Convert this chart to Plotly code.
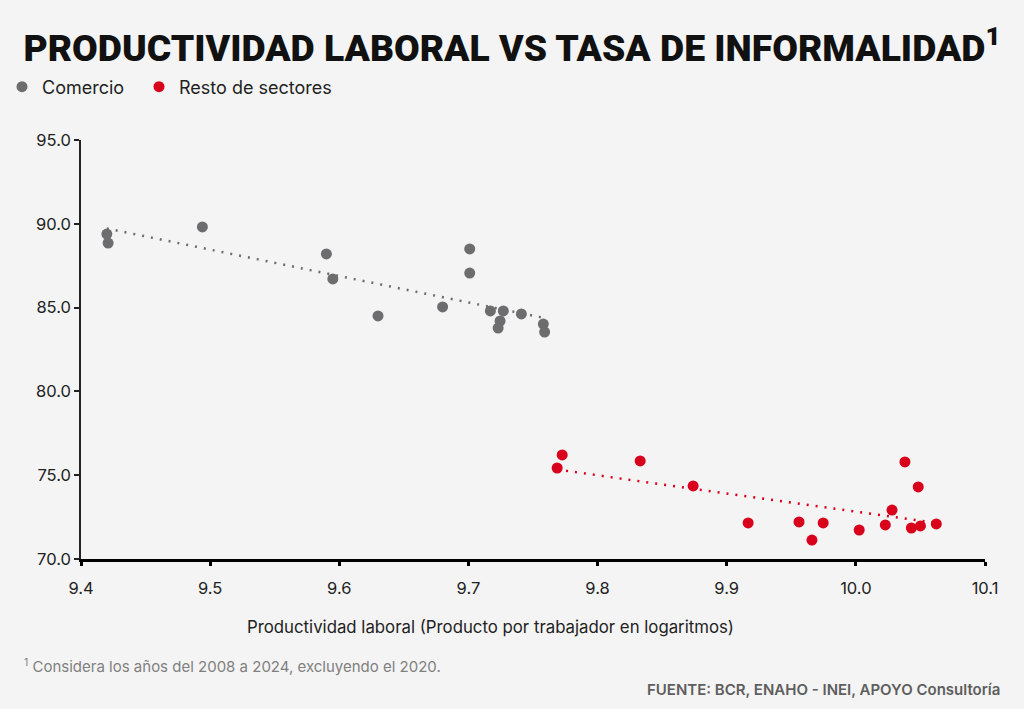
import numpy as np
import plotly.graph_objects as go

# Comercio (gray)
comercio_x = [9.420, 9.421, 9.494, 9.590, 9.595, 9.630, 9.680, 9.701, 9.701,
              9.717, 9.727, 9.7245, 9.723, 9.741, 9.758, 9.759]
comercio_y = [89.39, 88.85, 89.81, 88.20, 86.71, 84.50, 85.04, 88.50, 87.06,
              84.80, 84.80, 84.20, 83.78, 84.62, 84.02, 83.54]

# Resto de sectores (red)
resto_x = [9.7726, 9.7687, 9.833, 9.874, 9.9166, 9.956, 9.966, 9.9747,
           10.0026, 10.0228, 10.028, 10.038, 10.0483, 10.043, 10.050, 10.0623]
resto_y = [76.21, 75.43, 75.85, 74.36, 72.15, 72.21, 71.13, 72.15,
           71.73, 72.03, 72.92, 75.79, 74.30, 71.85, 71.97, 72.09]

x_ticks = [9.4, 9.5, 9.6, 9.7, 9.8, 9.9, 10.0, 10.1]
x_tick_labels = ["9.4", "9.5", "9.6", "9.7", "9.8", "9.9", "10.0", "10.1"]
y_ticks = [70, 75, 80, 85, 90, 95]
y_tick_labels = ["70.0", "75.0", "80.0", "85.0", "90.0", "95.0"]

GRAY = "#6d6d6f"
RED = "#d9001b"
FONT = "Inter"

fig = go.Figure()


def trend(xs, ys):
    m, b = np.polyfit(xs, ys, 1)
    xx = np.array([min(xs), max(xs)])
    return xx, m * xx + b


for xs, ys, col in [(comercio_x, comercio_y, GRAY), (resto_x, resto_y, RED)]:
    tx, ty = trend(xs, ys)
    fig.add_trace(go.Scatter(x=tx, y=ty, mode="lines", showlegend=False,
                             line=dict(color=col, width=2.5, dash="2px,7px"),
                             hoverinfo="skip"))

for xs, ys, col, name, lg in [(comercio_x, comercio_y, GRAY, "Comercio", "legend"),
                              (resto_x, resto_y, RED, "Resto de sectores", "legend2")]:
    fig.add_trace(go.Scatter(x=xs, y=ys, mode="markers", name=name, legend=lg,
                             marker=dict(color=col, size=11)))

legend_common = dict(orientation="h", xref="container", yref="container",
                     y=1 - 87 / 709, xanchor="left", yanchor="middle",
                     font=dict(size=18, color="#222222"),
                     bgcolor="rgba(0,0,0,0)", borderwidth=0)

fig.update_layout(
    width=1024, height=709,
    paper_bgcolor="#f4f4f4", plot_bgcolor="#f4f4f4",
    margin=dict(l=81, r=39, t=140, b=150),
    font=dict(family=FONT, color="#222222", size=16),
    title=dict(text="PRODUCTIVIDAD LABORAL VS TASA DE INFORMALIDAD<sup>1</sup>",
               x=0.5, xanchor="center", y=1 - 48 / 709, yanchor="middle",
               font=dict(family="Roboto", size=37.3, color="#111111", weight=900)),
    legend=dict(x=(44 - 40 - 2) / 1024, **legend_common),
    legend2=dict(x=(181 - 40 - 2) / 1024, **legend_common),
    showlegend=True,
    xaxis=dict(range=[9.4, 10.1], tickvals=x_ticks, ticktext=x_tick_labels,
               showgrid=False, zeroline=False, showline=True, linecolor="#000000",
               linewidth=3, ticks="outside", ticklen=4, tickwidth=3, tickcolor="#000000",
               ticklabelstandoff=8,
               tickfont=dict(size=16.5, color="#222222")),
    yaxis=dict(range=[70, 95], tickvals=y_ticks, ticktext=y_tick_labels,
               showgrid=False, zeroline=False, showline=True, linecolor="#222222",
               linewidth=1.5, ticks="outside", ticklen=5, tickwidth=1.5, tickcolor="#222222",
               tickfont=dict(size=16.5, color="#222222")),
)

fig.add_annotation(text="Productividad laboral (Producto por trabajador en logaritmos)",
                   xref="paper", yref="paper", x=(490 - 81) / 904, y=-(627 - 559) / 419,
                   xanchor="center", yanchor="middle", showarrow=False,
                   font=dict(size=16.8, color="#222222"))
fig.add_annotation(text="<sup>1</sup> Considera los años del 2008 a 2024, excluyendo el 2020.",
                   xref="paper", yref="paper", x=-59 / 904, y=-(666 - 559) / 419,
                   xanchor="left", yanchor="middle", showarrow=False,
                   font=dict(size=15, color="#808080"))
fig.add_annotation(text="FUENTE: BCR, ENAHO - INEI, APOYO Consultoría",
                   xref="paper", yref="paper", x=(1002 - 81) / 904, y=-(689 - 559) / 419,
                   xanchor="right", yanchor="middle", showarrow=False,
                   font=dict(size=15, color="#5e5e5e", weight=600))

fig.write_html("out.html", config={"displayModeBar": False},
               post_script="document.body.style.margin='0';")
